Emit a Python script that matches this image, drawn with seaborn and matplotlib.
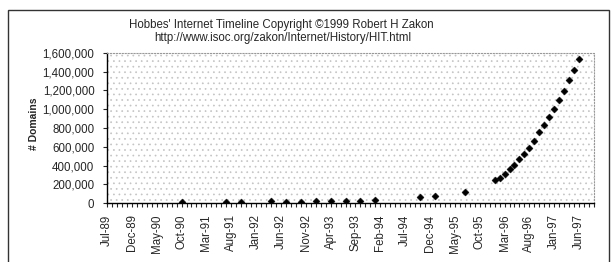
import matplotlib
matplotlib.use("Agg")
import matplotlib.pyplot as plt
import matplotlib.ticker as mticker
from matplotlib.patches import Rectangle
import seaborn as sns
import pandas as pd

# --- DATA ---
START = "1989-07"
N_MONTHS = 99  # Jul-89 .. Sep-97 on the category axis
survey_months = [
    "1990-10", "1991-07", "1991-10", "1992-04", "1992-07", "1992-10",
    "1993-01", "1993-04", "1993-07", "1993-10", "1994-01", "1994-10",
    "1995-01", "1995-07",
    "1996-01", "1996-02", "1996-03", "1996-04", "1996-05", "1996-06",
    "1996-07", "1996-08", "1996-09", "1996-10", "1996-11", "1996-12",
    "1997-01", "1997-02", "1997-03", "1997-04", "1997-05", "1997-06",
]
domains = [
    9300, 16000, 18000, 20000, 16300, 18100,
    21000, 22000, 26000, 28000, 32000, 62000,
    76000, 122000,
    248000, 266000, 311000, 361000, 407000, 474000,
    524000, 588000, 665000, 758000, 829000, 914000,
    1002000, 1098000, 1197000, 1310000, 1413000, 1530000,
]
title_lines = [
    "Hobbes' Internet Timeline Copyright \u00a91999 Robert H Zakon",
    "http://www.isoc.org/zakon/Internet/History/HIT.html",
]
y_label = "# Domains"
y_ticks = list(range(0, 1600001, 200000))
label_every = 5
# -------------

all_months = pd.period_range(START, periods=N_MONTHS, freq="M")
df = pd.DataFrame({
    "month": pd.PeriodIndex(survey_months, freq="M"),
    "domains": domains,
})
df["idx"] = [(m - all_months[0]).n for m in df["month"]]

sns.set_style("white")
plt.rcParams["font.family"] = ["Liberation Sans", "DejaVu Sans"]
plt.rcParams["hatch.linewidth"] = 0.5

fig = plt.figure(figsize=(6.12, 2.62), dpi=100)
ax = fig.add_axes([107 / 612, 1 - 203.3 / 262, 487 / 612, 150.6 / 262])

# outer chart border
fig.patches.append(Rectangle((8 / 612, -0.05), 601 / 612, 1.05 - 10 / 262,
                             transform=fig.transFigure, fill=False,
                             edgecolor="#333333", linewidth=1.0))

# speckled plot-area fill (scanned pattern look)
ax.add_patch(Rectangle((0, 0), 1, 1, transform=ax.transAxes, facecolor="white",
                       edgecolor="#c4c4c4", linewidth=0, hatch="...", zorder=0.5))

sns.scatterplot(data=df, x="idx", y="domains", ax=ax, marker="D", s=13,
                color="black", edgecolor="black", linewidth=0.3, zorder=3,
                legend=False)

ax.set_xlim(0, N_MONTHS - 1)
ax.set_ylim(0, 1600000)
ax.set_yticks(y_ticks)
ax.yaxis.set_major_formatter(mticker.FuncFormatter(lambda v, p: f"{int(v):,}"))

xt = list(range(0, N_MONTHS, label_every))
ax.set_xticks(xt)
ax.set_xticklabels([all_months[i].strftime("%b-%y") for i in xt], rotation=90)
ax.set_xticks(range(N_MONTHS), minor=True)

ax.tick_params(axis="x", which="both", direction="out", length=3, width=0.8,
               pad=5, labelsize=8.3, bottom=True)
ax.tick_params(axis="y", direction="out", length=3, width=0.8, pad=6,
               labelsize=8.3, left=True)

ax.set_xlabel("")
ax.set_ylabel(y_label, fontsize=7.5, fontweight="bold")
ax.yaxis.set_label_coords(-(107 - 39) / 487, 0.53)

for side in ["left", "bottom"]:
    ax.spines[side].set_color("black")
    ax.spines[side].set_linewidth(1.0)
for side in ["top", "right"]:
    ax.spines[side].set_color("#999999")
    ax.spines[side].set_linestyle(":")
    ax.spines[side].set_linewidth(0.8)

fig.text(281 / 612, 1 - 25 / 262, title_lines[0], ha="center", va="center", fontsize=8.3)
fig.text(283 / 612, 1 - 37.5 / 262, title_lines[1], ha="center", va="center", fontsize=8.3)

fig.savefig("out.png", dpi=100)
